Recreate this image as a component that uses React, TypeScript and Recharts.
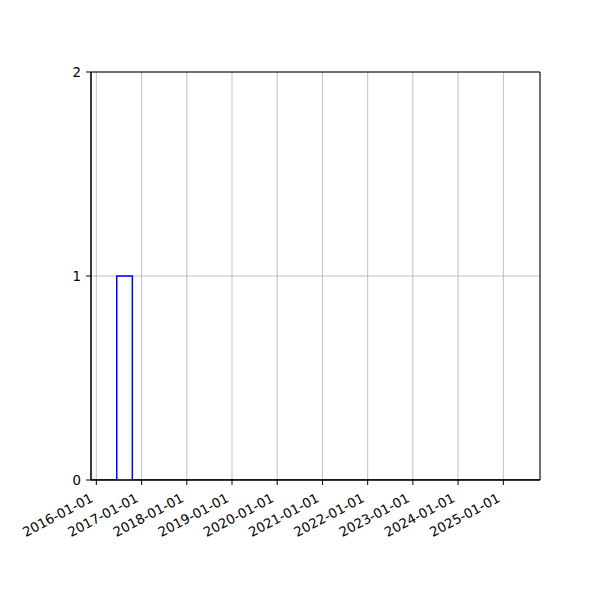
import React from 'react';
import { LineChart, Line, XAxis, YAxis, CartesianGrid, ReferenceArea } from 'recharts';

// Histogram bin edges (dates) and counts
const binEdges = ['2015-11-19', '2016-06-14', '2016-10-18', '2025-10-24'];
const binCounts = [0, 1, 0];
// Tick labels on the date axis
const xTickLabels = [
  '2016-01-01', '2017-01-01', '2018-01-01', '2019-01-01', '2020-01-01',
  '2021-01-01', '2022-01-01', '2023-01-01', '2024-01-01', '2025-01-01',
];
const yTicks = [0, 1, 2];

const toTime = (s: string) => new Date(s + 'T00:00:00Z').getTime();
const edgeTimes = binEdges.map(toTime);
const xTicks = xTickLabels.map(toTime);

const stepData: { t: number; c: number }[] = [];
binCounts.forEach((c, i) => {
  stepData.push({ t: edgeTimes[i], c });
  stepData.push({ t: edgeTimes[i + 1], c });
});

const FONT = 'DejaVu Sans';
const FONT_SIZE = 13.3;

const DateTick = (props: any) => {
  const { x, y, payload } = props;
  const label = new Date(payload.value).toISOString().slice(0, 10);
  return (
    <text
      transform={`translate(${x - 2.4},${y + 16}) rotate(-28)`}
      textAnchor="end"
      fontFamily={FONT}
      fontSize={FONT_SIZE}
      fill="#000"
    >
      {label}
    </text>
  );
};

export default function App() {
  const xMin = edgeTimes[0];
  const xMax = edgeTimes[edgeTimes.length - 1];
  return (
    <div style={{ position: 'absolute', left: 0, top: 0, width: 600, height: 600, background: '#fff' }}>
      <LineChart
        width={600}
        height={600}
        data={stepData}
        margin={{ top: 72, right: 60, bottom: 40, left: 31 }}
      >
        <CartesianGrid stroke="#b0b0b0" strokeWidth={0.8} />
        <XAxis
          dataKey="t"
          type="number"
          domain={[xMin, xMax]}
          ticks={xTicks}
          allowDataOverflow
          height={80}
          tickSize={5}
          tickMargin={0}
          interval={0}
          tick={<DateTick />}
          axisLine={{ stroke: '#000', strokeWidth: 1 }}
          tickLine={{ stroke: '#000', strokeWidth: 1 }}
        />
        <YAxis
          type="number"
          domain={[0, 2]}
          ticks={yTicks}
          allowDataOverflow
          width={60}
          tickSize={5}
          tickMargin={5}
          interval={0}
          tick={{ fill: '#000', fontFamily: FONT, fontSize: FONT_SIZE }}
          axisLine={{ stroke: '#000', strokeWidth: 1 }}
          tickLine={{ stroke: '#000', strokeWidth: 1 }}
        />
        <ReferenceArea x1={xMin} x2={xMax} y1={0} y2={2} fill="none" stroke="#000" strokeWidth={1} />
        <Line
          dataKey="c"
          type="linear"
          stroke="#0000ff"
          strokeWidth={1.5}
          dot={false}
          isAnimationActive={false}
        />
      </LineChart>
    </div>
  );
}
